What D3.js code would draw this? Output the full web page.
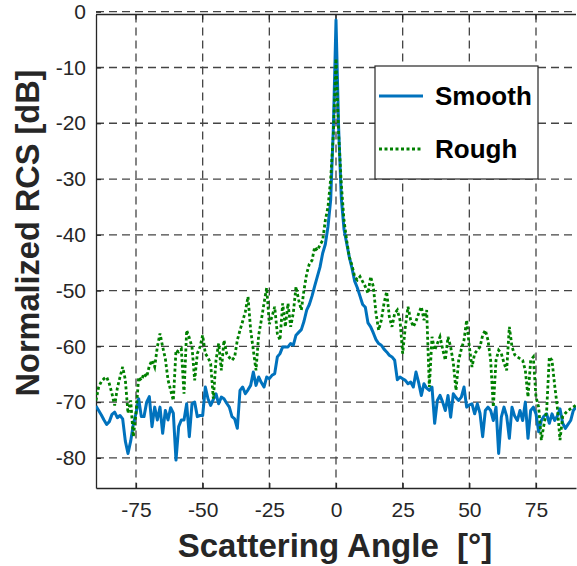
<!DOCTYPE html>
<html>
<head>
<meta charset="utf-8">
<script src="https://cdn.jsdelivr.net/npm/d3@7"></script>
<style>
  body { margin: 0; background: #fff; }
  text { font-family: "Liberation Sans", Arial, sans-serif; }
</style>
</head>
<body>
<div id="plot"></div>
<script>
// scattering angle in degrees, one sample per degree
const angles = d3.range(-90, 91);

// normalized RCS [dB]
const smooth = [
  -70.7, -71.5, -72.3, -73.2, -74, -73.5, -72.2, -71.8, -72.8, -72.4,
  -73, -77, -79.2, -77, -74, -72, -69.4, -72.6, -72.6, -70,
  -69, -74.4, -70.9, -73.2, -70.9, -75.6, -71.5, -73.2, -71, -72,
  -80.4, -74.4, -73.2, -73.2, -70.3, -76.2, -70.3, -70, -72.6, -72.4,
  -72.4, -67.3, -69.4, -70.6, -69.5, -68.5, -70.3, -69.1, -69.4, -70.2,
  -70.9, -72.6, -73, -74.7, -67.9, -67.3, -68.5, -67.8, -67, -64.6,
  -67, -65.5, -66.5, -67.3, -65.5, -65.8, -65.2, -64.9, -61.9, -61.3,
  -60.1, -60.1, -60.1, -59.5, -59.8, -58, -57.5, -57, -55.5, -53.5,
  -52.5, -51, -49.2, -47.5, -45.8, -43.3, -41.7, -38.5, -33.8, -21,
  -1.5,
  -21, -33.5, -39, -41.5, -44, -46, -48.3, -49.5, -51, -52.5,
  -53, -55.8, -56.5, -57.6, -58.8, -59.5, -59.8, -60.5, -61, -61.6,
  -61.9, -62.5, -66, -65.5, -65.8, -66.1, -66.7, -66.4, -67.3, -64.6,
  -66.5, -68.8, -66.7, -67.5, -67.9, -67.3, -73.8, -69.7, -68.8, -70,
  -71.5, -68.8, -72.7, -68.5, -69.2, -69.7, -69.1, -67.3, -70.9, -70.5,
  -70.3, -72.1, -70.3, -72, -76.2, -71.5, -70.9, -71.5, -73.3, -70.9,
  -79.2, -72.7, -70.9, -72.5, -76.5, -70.9, -72.5, -73.3, -71.5, -73.3,
  -70, -76.5, -71.5, -70.9, -72.1, -75.3, -73.3, -72.5, -72.1, -73.8,
  -72.1, -73.3, -72.5, -71.2, -73.8, -74.7, -74, -73.3, -71.5, -70.9
];

const rough = [
  -69.7, -67.3, -66.3, -65.8, -65.5, -66.7, -68.5, -70.6, -67.5, -65.5,
  -63.7, -66, -72, -69.7, -76.2, -72, -65.5, -66.1, -64.9, -65.5,
  -63.5, -62.5, -63.7, -60.1, -57.7, -60.1, -62.2, -66, -67.9, -69.7,
  -60.7, -61, -60.5, -68.5, -57.1, -58.5, -60.1, -66.1, -61.3, -60.1,
  -58, -61.3, -62, -63.1, -69.4, -62.5, -59.5, -64.3, -58.9, -61.3,
  -62, -62.5, -61.9, -58.9, -57.1, -55.5, -53.8, -51.1, -57.1, -60.7,
  -64.3, -58, -55.3, -52.3, -49.5, -56, -54.7, -52.9, -57.7, -58.9,
  -52.3, -56.5, -52.3, -56.5, -54, -49.3, -51.7, -53.5, -49.9, -47,
  -45.2, -44.6, -42.2, -42.8, -41.8, -41, -37.4, -35, -30, -22,
  -8.4,
  -22, -31, -37.4, -41, -44, -45.5, -47.5, -48.1, -47.5, -48.4,
  -49.3, -50.5, -47.5, -49.3, -54.1, -57.1, -55.3, -52.3, -50.2, -54.7,
  -56.5, -54.1, -53.5, -55.3, -61.3, -56.5, -52.9, -55.3, -56.5, -55.5,
  -54.1, -52.9, -55.3, -53.5, -67.3, -58.3, -60.7, -59.5, -58.3, -60.5,
  -62.5, -58.3, -60.1, -63, -67.9, -62.5, -60.5, -58.9, -55.3, -60.1,
  -63.7, -61.3, -60.7, -60.1, -58, -57.1, -58.9, -62.5, -70.9, -62.5,
  -60.7, -61.3, -63, -64.3, -56.5, -60.1, -61.5, -61.9, -62.2, -62.5,
  -64.3, -69.1, -62.5, -61.9, -69.1, -70.9, -76.8, -74, -71.5, -61.9,
  -62.5, -67, -70.9, -76.8, -72.6, -72, -71.5, -71.2, -70.9, -70.5
];

const xTicks = [-75, -50, -25, 0, 25, 50, 75];
const yTicks = [0, -10, -20, -30, -40, -50, -60, -70, -80];
const seriesNames = ['Smooth', 'Rough'];

const W = 577, H = 566;
const margin = {left: 96, right: 1, top: 14.5, bottom: 78};
const iw = W - margin.left - margin.right;
const ih = H - margin.top - margin.bottom;

const svg = d3.select('#plot').append('svg')
  .attr('width', W).attr('height', H);

const x = d3.scaleLinear().domain([-90, 90]).range([0, iw]);
const y = d3.scaleLinear().domain([-85.4, -0.5]).range([ih, 0]);

const g = svg.append('g').attr('transform', `translate(${margin.left},${margin.top})`);

// grid
g.append('g').selectAll('line').data(xTicks).join('line')
  .attr('x1', d => x(d)).attr('x2', d => x(d))
  .attr('y1', 0).attr('y2', ih)
  .style('stroke', '#444').style('stroke-width', 1.3)
  .style('stroke-dasharray', '8,5');
g.append('g').selectAll('line').data(yTicks).join('line')
  .attr('y1', d => y(d)).attr('y2', d => y(d))
  .attr('x1', 0).attr('x2', iw)
  .style('stroke', '#444').style('stroke-width', 1.3)
  .style('stroke-dasharray', '8,5');

// axes (plain hyphen for negatives, like the original)
const fmt = d => String(d);
const xAxis = g.append('g').attr('transform', `translate(0,${ih})`)
  .call(d3.axisBottom(x).tickValues(xTicks).tickFormat(fmt)
    .tickSizeInner(-5).tickSizeOuter(0).tickPadding(14));
const yAxis = g.append('g')
  .call(d3.axisLeft(y).tickValues(yTicks).tickFormat(fmt)
    .tickSizeInner(-5).tickSizeOuter(0).tickPadding(10));
g.append('g').selectAll('line').data(xTicks).join('line')
  .attr('x1', d => x(d)).attr('x2', d => x(d))
  .attr('y1', 0).attr('y2', 5)
  .style('stroke', '#262626').style('stroke-width', 1.2);
[xAxis, yAxis].forEach(a => {
  a.select('.domain').style('stroke', '#262626').style('stroke-width', 1.3);
  a.selectAll('.tick line').style('stroke', '#262626').style('stroke-width', 1.2);
  a.selectAll('.tick text').style('font-size', '21px').style('fill', '#262626');
});
g.append('line').attr('x1', 0).attr('x2', iw).attr('y1', 0).attr('y2', 0)
  .style('stroke', '#262626').style('stroke-width', 1.3);

// lines
g.append('clipPath').attr('id', 'clip').append('rect')
  .attr('width', iw).attr('height', ih);
const line = vals => d3.line()
  .x((d, i) => x(angles[i]))
  .y(d => y(d))(vals);

g.append('path').attr('clip-path', 'url(#clip)')
  .attr('d', line(smooth))
  .style('fill', 'none').style('stroke', '#0072BD').style('stroke-width', 3)
  .style('stroke-linejoin', 'round');
g.append('path').attr('clip-path', 'url(#clip)')
  .attr('d', line(rough))
  .style('fill', 'none').style('stroke', '#008000').style('stroke-width', 2.8)
  .style('stroke-dasharray', '3,2.5');

// legend
const lg = svg.append('g').attr('transform', 'translate(375,66)');
lg.append('rect').attr('width', 163).attr('height', 113)
  .style('fill', '#fff').style('stroke', '#262626').style('stroke-width', 1.2);
const styles = [
  {stroke: '#0072BD', width: 3, dash: null},
  {stroke: '#008000', width: 2.8, dash: '3,2.5'}
];
seriesNames.forEach((name, i) => {
  const yy = 30 + i * 53;
  lg.append('line').attr('x1', 4).attr('x2', 48).attr('y1', yy).attr('y2', yy)
    .style('stroke', styles[i].stroke).style('stroke-width', styles[i].width)
    .style('stroke-dasharray', styles[i].dash);
  lg.append('text').attr('x', 60).attr('y', yy + 9)
    .style('font-size', '26px').style('font-weight', 'bold').style('fill', '#000')
    .text(name);
});

// axis titles
svg.append('text')
  .attr('x', margin.left + iw / 2 - 1).attr('y', 557)
  .attr('text-anchor', 'middle')
  .style('font-size', '33px').style('font-weight', 'bold').style('fill', '#262626')
  .style('white-space', 'pre')
  .text('Scattering Angle  [°]');
svg.append('text')
  .attr('transform', 'translate(39,233) rotate(-90)')
  .attr('text-anchor', 'middle')
  .style('font-size', '32.5px').style('font-weight', 'bold').style('fill', '#262626')
  .text('Normalized RCS [dB]');
</script>
</body>
</html>
